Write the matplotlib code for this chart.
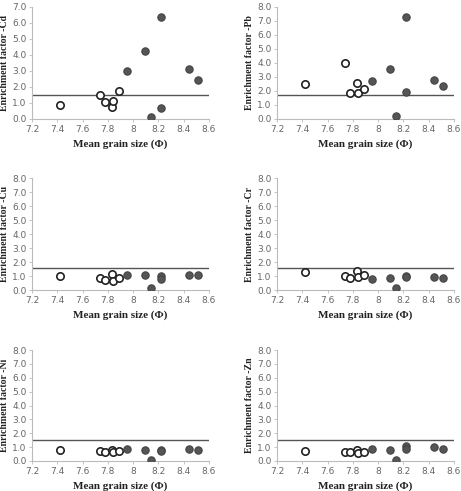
import matplotlib
matplotlib.use("Agg")
import matplotlib.pyplot as plt

# mean grain size (phi); first six are open circles, the rest filled
x_open = [7.42, 7.74, 7.78, 7.83, 7.84, 7.89]
x_fill = [7.95, 8.09, 8.14, 8.22, 8.22, 8.44, 8.51]

cd_open = [0.90, 1.52, 1.05, 0.75, 1.10, 1.75]
cd_fill = [3.00, 4.25, 0.12, 6.35, 0.68, 3.15, 2.42]
pb_open = [2.50, 4.02, 1.88, 2.60, 1.88, 2.15]
pb_fill = [2.72, 3.55, 0.18, 7.25, 1.95, 2.78, 2.35]
cu_open = [1.03, 0.84, 0.72, 1.15, 0.67, 0.84]
cu_fill = [1.05, 1.10, 0.12, 0.98, 0.79, 1.05, 1.05]
cr_open = [1.31, 1.03, 0.84, 1.36, 0.91, 1.07]
cr_fill = [0.81, 0.88, 0.12, 0.98, 0.95, 0.95, 0.88]
ni_open = [0.76, 0.69, 0.67, 0.81, 0.62, 0.71]
ni_fill = [0.86, 0.81, 0.07, 0.81, 0.71, 0.90, 0.81]
zn_open = [0.74, 0.64, 0.64, 0.78, 0.55, 0.67]
zn_fill = [0.90, 0.78, 0.10, 1.09, 0.90, 1.04, 0.88]

metals = ["Cd", "Pb", "Cu", "Cr", "Ni", "Zn"]
opens = [cd_open, pb_open, cu_open, cr_open, ni_open, zn_open]
fills = [cd_fill, pb_fill, cu_fill, cr_fill, ni_fill, zn_fill]
ymax = [7, 8, 8, 8, 8, 8]
thresh = [1.5, 1.7, 1.55, 1.55, 1.5, 1.5]

x_ticks = [7.2, 7.4, 7.6, 7.8, 8.0, 8.2, 8.4, 8.6]
x_ticklabels = ["7.2", "7.4", "7.6", "7.8", "8", "8.2", "8.4", "8.6"]

W, H = 461, 491
fig = plt.figure(figsize=(W / 100, H / 100), dpi=100)

cols = [(32, 209), (277, 454)]
rows = [(7, 119), (178, 290), (350, 461)]

for i, m in enumerate(metals):
    c0, c1 = cols[i % 2]
    r0, r1 = rows[i // 2]
    ax = fig.add_axes([c0 / W, 1 - r1 / H, (c1 - c0) / W, (r1 - r0) / H])
    ax.scatter(x_open, opens[i], s=28, facecolor="white", edgecolor="#222222", linewidth=1.2, zorder=3)
    ax.scatter(x_fill, fills[i], s=28, facecolor="#555555", edgecolor="#444444", linewidth=0.8, zorder=3)
    ax.axhline(thresh[i], color="#555555", linewidth=1.0, zorder=2)
    ax.set_xlim(7.2, 8.6)
    ax.set_ylim(0, ymax[i])
    ax.set_xticks(x_ticks)
    ax.set_xticklabels(x_ticklabels)
    ax.set_yticks(range(0, ymax[i] + 1))
    ax.set_yticklabels([f"{v:.1f}" for v in range(0, ymax[i] + 1)])
    for s in ["top", "right"]:
        ax.spines[s].set_visible(False)
    for s in ["left", "bottom"]:
        ax.spines[s].set_color("#bbbbbb")
        ax.spines[s].set_linewidth(0.8)
    ax.tick_params(labelsize=6.5, colors="#bbbbbb", labelcolor="#666666", length=2, width=0.6, pad=2)
    ax.set_xlabel("Mean grain size (\u03a6)", fontsize=8, fontweight="bold",
                  family="Liberation Serif", color="#222222", labelpad=4)
    ax.set_ylabel("Enrichment factor -" + m, fontsize=7, fontweight="bold",
                  family="Liberation Serif", color="#222222")
    ax.yaxis.set_label_coords(-0.13, 0.5)

plt.savefig("out.png", dpi=100)
